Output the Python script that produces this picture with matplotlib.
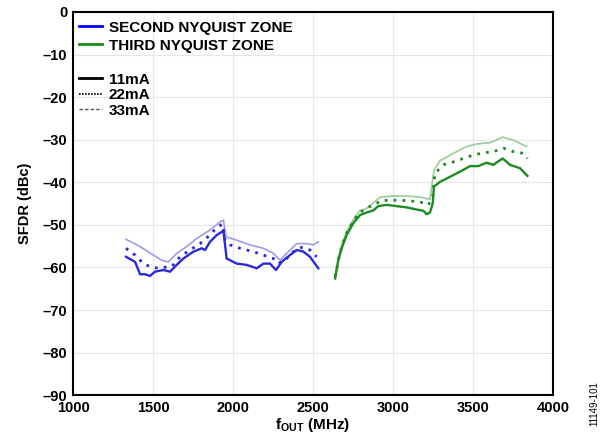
import matplotlib.pyplot as plt
from matplotlib.lines import Line2D

plt.rcParams['font.family'] = ['Liberation Sans', 'DejaVu Sans']
plt.rcParams['mathtext.fontset'] = 'custom'
plt.rcParams['mathtext.rm'] = 'Liberation Sans:bold'
plt.rcParams['mathtext.bf'] = 'Liberation Sans:bold'

# second Nyquist zone (blue)
blue_11_f = [1331, 1388, 1419, 1450, 1481, 1512, 1565, 1606, 1648, 1690, 1752, 1804, 1825, 1856,
             1898, 1940, 1960, 2023, 2085, 2148, 2190, 2231, 2269, 2304, 2356, 2398, 2440, 2481, 2533]
blue_11_db = [-57.5, -58.7, -61.6, -61.6, -62.0, -61.0, -60.6, -61.0, -59.4, -57.9, -56.3, -55.5, -55.9, -54.0,
              -52.4, -51.4, -57.9, -59.1, -59.4, -60.2, -59.1, -59.1, -60.6, -58.7, -57.1, -55.9, -56.3, -57.5, -60.2]

blue_22_f = [1331, 1388, 1440, 1481, 1512, 1565, 1617, 1669, 1731, 1794, 1856, 1898, 1935, 1950,
             1981, 2044, 2127, 2190, 2252, 2283, 2325, 2377, 2429, 2481, 2523]
blue_22_db = [-55.5, -57.1, -59.1, -59.8, -60.1, -60.0, -59.8, -57.5, -55.9, -54.4, -52.4, -50.6, -49.8, -53.6,
              -54.7, -55.5, -56.3, -57.1, -57.9, -59.1, -58.3, -56.3, -55.3, -55.9, -57.5]

blue_33_f = [1331, 1419, 1502, 1554, 1596, 1648, 1710, 1773, 1856, 1919, 1940, 1956, 2023, 2106,
             2190, 2252, 2294, 2335, 2398, 2460, 2502, 2533]
blue_33_db = [-53.4, -55.1, -57.1, -58.3, -58.7, -56.7, -55.1, -53.2, -51.2, -49.3, -48.9, -52.8, -53.6, -54.7,
              -55.5, -56.7, -58.3, -56.7, -54.4, -54.4, -54.7, -54.0]

# third Nyquist zone (green)
green_11_f = [2638, 2658, 2679, 2710, 2752, 2794, 2835, 2877, 2908, 2960, 3023, 3085, 3148, 3190, 3210,
              3231, 3248, 3256, 3294, 3356, 3419, 3481, 3533, 3585, 3627, 3685, 3731, 3794, 3840]
green_11_db = [-62.6, -58.3, -55.5, -52.4, -49.6, -47.7, -47.1, -46.6, -45.6, -45.3, -45.6, -45.9, -46.4, -46.7, -47.5,
               -47.1, -45.0, -41.0, -39.9, -38.7, -37.5, -36.2, -36.2, -35.4, -35.9, -34.4, -35.9, -36.7, -38.5]

green_22_f = [2638, 2660, 2680, 2710, 2750, 2790, 2815, 2929, 3004, 3085, 3169, 3221, 3248, 3262,
              3315, 3377, 3440, 3502, 3565, 3627, 3690, 3752, 3815, 3840]
green_22_db = [-62.2, -58.0, -55.0, -52.0, -49.2, -47.2, -46.5, -44.3, -44.2, -44.3, -44.6, -45.3, -43.4, -37.9,
               -35.9, -35.2, -34.4, -33.6, -33.1, -32.8, -32.0, -32.8, -33.2, -34.4]

green_33_f = [2638, 2660, 2680, 2710, 2750, 2790, 2835, 2919, 3004, 3085, 3169, 3231, 3256, 3294,
              3377, 3460, 3523, 3606, 3685, 3752, 3835]
green_33_db = [-62.0, -57.6, -54.6, -51.6, -48.8, -46.8, -46.1, -43.5, -43.2, -43.2, -43.5, -44.0, -37.1, -34.9,
               -33.2, -31.6, -31.0, -30.7, -29.4, -30.1, -31.6]

x_ticks = [1000, 1500, 2000, 2500, 3000, 3500, 4000]
y_ticks = [0, -10, -20, -30, -40, -50, -60, -70, -80, -90]

blue_dark = '#2a2ad8'
blue_light = '#9c9cec'
green_dark = '#1f8a1f'
green_light = '#98cc98'

fig = plt.figure(figsize=(6.05, 4.44), dpi=100)
ax = fig.add_axes([0.1207, 0.110, 0.7934, 0.863])

# blue curves
ax.plot(blue_33_f, blue_33_db, color=blue_light, lw=1.2)
ax.plot(blue_22_f, blue_22_db, color=blue_dark, lw=2.0, ls=(0, (1, 2.2)))
ax.plot(blue_11_f, blue_11_db, color=blue_dark, lw=1.7)

# green curves
ax.plot(green_33_f, green_33_db, color=green_light, lw=1.2)
ax.plot(green_22_f, green_22_db, color=green_dark, lw=2.0, ls=(0, (1, 2.2)))
ax.plot(green_11_f, green_11_db, color=green_dark, lw=1.7)

ax.set_xlim(1000, 4000)
ax.set_ylim(-90, 0)
ax.set_xticks(x_ticks)
ax.set_yticks(y_ticks)
ax.set_xticklabels([str(v) for v in x_ticks], fontweight='bold', fontsize=10.5)
ax.set_yticklabels(['0'] + ['\u2013' + str(-v) for v in y_ticks[1:]], fontweight='bold', fontsize=10.5)
ax.tick_params(length=0, pad=4)
ax.grid(True, color='#e6e6e6', lw=0.8)
ax.set_axisbelow(True)
for s in ax.spines.values():
    s.set_linewidth(1.5)
    s.set_color('black')

ax.set_xlabel(r'$\mathregular{f_{OUT}}$ (MHz)', fontweight='bold', fontsize=11, labelpad=1)
ax.set_ylabel('SFDR (dBc)', fontweight='bold', fontsize=10.5, labelpad=8)

# legends
zone_handles = [Line2D([], [], color='#0000ff', lw=2), Line2D([], [], color='#1a8a1a', lw=2)]
leg1 = ax.legend(zone_handles, ['SECOND NYQUIST ZONE', 'THIRD NYQUIST ZONE'],
                 loc='upper left', bbox_to_anchor=(0.0, 0.993), frameon=False,
                 prop={'weight': 'bold', 'size': 11}, handlelength=1.5, handletextpad=0.45,
                 labelspacing=0.25, borderaxespad=0.0)
ax.add_artist(leg1)
cur_handles = [Line2D([], [], color='black', lw=2),
               Line2D([], [], color='black', lw=1.2, ls=(0, (1, 0.8))),
               Line2D([], [], color='#555555', lw=1.0, ls=(0, (2.5, 1.5)))]
ax.legend(cur_handles, ['11mA', '22mA', '33mA'], loc='upper left', bbox_to_anchor=(0.0, 0.858),
          frameon=False, prop={'weight': 'bold', 'size': 11}, handlelength=1.5, handletextpad=0.45,
          labelspacing=0.1, borderaxespad=0.0)

fig.text(0.983, 0.09, '11149-101', rotation=90, fontsize=7, ha='center', va='center')

fig.savefig('out.png', dpi=100)
